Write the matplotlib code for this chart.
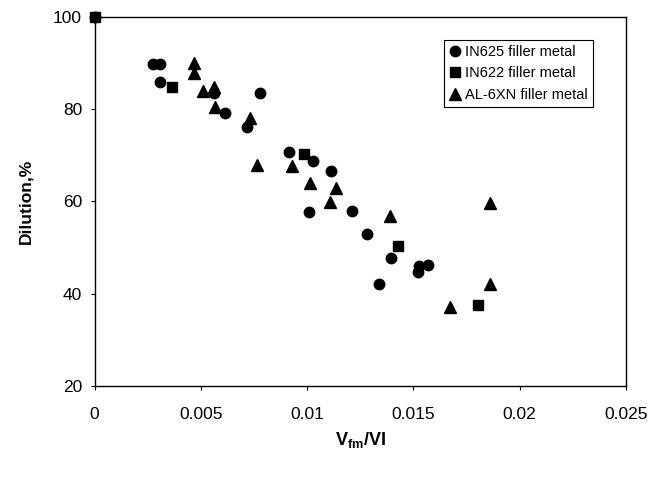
import matplotlib
matplotlib.use("Agg")
import matplotlib.pyplot as plt

# IN625 filler metal
in625_x = [0.0, 0.00276, 0.00308, 0.00308, 0.00561, 0.00616, 0.00715, 0.00777,
           0.00915, 0.0103, 0.01114, 0.01007, 0.01212, 0.01283, 0.01395,
           0.01528, 0.01567, 0.01522, 0.01337]
in625_y = [100, 89.8, 89.8, 85.9, 83.5, 79.1, 76.2, 83.4,
           70.6, 68.8, 66.6, 57.6, 57.9, 52.9, 47.8,
           46.0, 46.2, 44.6, 42.1]

# IN622 filler metal
in622_x = [0.0, 0.00365, 0.00984, 0.0143, 0.01806]
in622_y = [100, 84.8, 70.3, 50.3, 37.6]

# AL-6XN filler metal
al6xn_x = [0.00469, 0.00469, 0.00508, 0.00561, 0.00569, 0.0073, 0.00764,
           0.00929, 0.01015, 0.01134, 0.0111, 0.01391, 0.01674, 0.0186, 0.0186]
al6xn_y = [90.0, 87.9, 84.0, 84.7, 80.5, 78.0, 67.9,
           67.7, 63.9, 62.8, 59.9, 56.8, 37.2, 59.7, 42.0]

x_ticks = [0, 0.005, 0.01, 0.015, 0.02, 0.025]
x_tick_labels = ["0", "0.005", "0.01", "0.015", "0.02", "0.025"]
y_ticks = [20, 40, 60, 80, 100]

plt.rcParams["font.family"] = ["Liberation Sans", "DejaVu Sans"]
plt.rcParams["mathtext.fontset"] = "custom"
plt.rcParams["mathtext.rm"] = "Liberation Sans"
plt.rcParams["mathtext.bf"] = "Liberation Sans:bold"

fig = plt.figure(figsize=(6.68, 4.78), dpi=100)
ax = fig.add_axes([0.1415, 0.1925, 0.7955, 0.7725])

ax.plot(in625_x, in625_y, "o", color="black", markersize=7.5,
        label="IN625 filler metal", clip_on=False, zorder=3)
ax.plot(in622_x, in622_y, "s", color="black", markersize=7,
        label="IN622 filler metal", clip_on=False, zorder=3)
ax.plot(al6xn_x, al6xn_y, "^", color="black", markersize=8,
        label="AL-6XN filler metal", clip_on=False, zorder=3)

ax.set_xlim(0, 0.025)
ax.set_ylim(20, 100)
ax.set_xticks(x_ticks)
ax.set_xticklabels(x_tick_labels)
ax.set_yticks(y_ticks)
ax.tick_params(axis="both", labelsize=12.5, direction="out", length=3,
               width=0.8, color="black", pad=12)
ax.tick_params(axis="y", pad=6)

for spine in ax.spines.values():
    spine.set_linewidth(1.0)
    spine.set_color("black")

ax.set_xlabel(r"$\mathbf{V_{fm}/VI}$", fontsize=13, labelpad=6)
ax.set_ylabel("Dilution,%", fontsize=12.5, fontweight="bold", labelpad=14)

leg = ax.legend(loc="upper left", bbox_to_anchor=(0.657, 0.937), fontsize=10.5,
                frameon=True, fancybox=False, framealpha=1, edgecolor="black",
                handlelength=0.8, handletextpad=0.3, borderpad=0.35,
                labelspacing=0.5, borderaxespad=0)
leg.get_frame().set_linewidth(0.8)

fig.savefig("out.png", dpi=100)
